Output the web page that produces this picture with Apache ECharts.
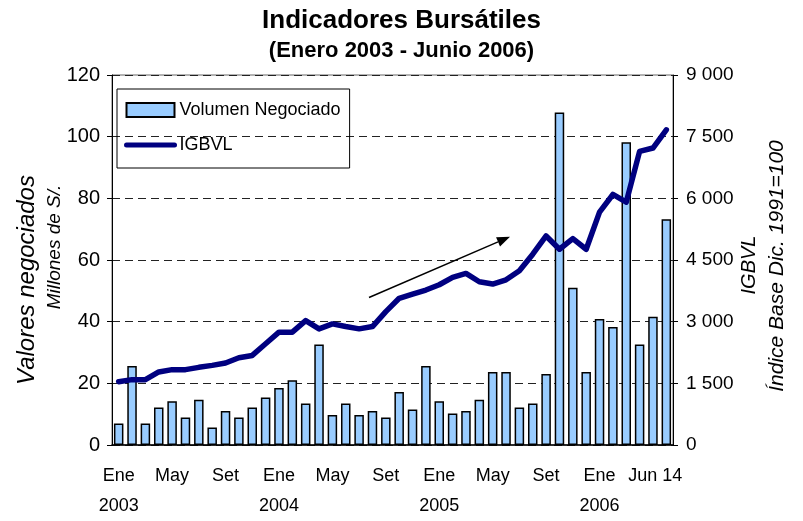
<!DOCTYPE html>
<html>
<head>
<meta charset="utf-8">
<title>Indicadores Bursátiles</title>
<script src="https://cdn.jsdelivr.net/npm/echarts@6/dist/echarts.min.js"></script>
<style>
  html, body { margin: 0; padding: 0; background: #fff; }
  #mychart { width: 803px; height: 521px; }
</style>
</head>
<body>
<div id="mychart"></div>
<script>
// meses Ene 2003 - Jun 2006
const meses = ["Ene", "Feb", "Mar", "Abr", "May", "Jun", "Jul", "Ago", "Set", "Oct", "Nov", "Dic"];
const anios = [2003, 2004, 2005, 2006];
const categorias = [];
anios.forEach(a => meses.forEach(m => categorias.push(m + " " + a)));
categorias.length = 42;

// etiquetas del eje x (indice -> texto)
const etiquetasIdx = [0, 4, 8, 12, 16, 20, 24, 28, 32, 36, 41];
const etiquetasTxt = ["Ene\n2003", "May", "Set", "Ene\n2004", "May", "Set", "Ene\n2005", "May", "Set", "Ene\n2006", "Jun 14"];

// Volumen negociado (millones de S/.)
const volumen = [7.0, 25.6, 7.0, 12.2, 14.2, 8.9, 14.7, 5.7, 11.0, 8.9, 12.2, 15.4,
  18.5, 21.0, 13.5, 32.6, 9.7, 13.5, 9.7, 11.0, 8.9, 17.2, 11.5, 25.6,
  14.2, 10.2, 11.0, 14.7, 23.7, 23.7, 12.2, 13.5, 23.0, 107.8, 51.0, 23.7,
  40.9, 38.3, 98.2, 32.6, 41.6, 73.2];

// IGBVL (indice base dic.1991=100)
const igbvl = [1540, 1590, 1590, 1777, 1833, 1833, 1889, 1937, 1995, 2123, 2179, 2462,
  2745, 2745, 3026, 2825, 2946, 2881, 2825, 2881, 3244, 3568, 3672, 3770,
  3898, 4077, 4173, 3970, 3915, 4019, 4237, 4641, 5084, 4762, 5021, 4762,
  5665, 6094, 5907, 7142, 7224, 7667];

const FONT = "Liberation Sans, Arial, sans-serif";

// flecha de tendencia (pixeles)
const flechaIni = [369, 297.5];
const flechaFin = [510, 236.7];
function cabezaFlecha(p0, p1, len, half) {
  const dx = p1[0] - p0[0], dy = p1[1] - p0[1];
  const d = Math.sqrt(dx * dx + dy * dy);
  const ux = dx / d, uy = dy / d;
  const bx = p1[0] - ux * len, by = p1[1] - uy * len;
  return {
    base: [bx, by],
    pts: [p1, [bx - uy * half, by + ux * half], [bx + uy * half, by - ux * half]]
  };
}
const cabeza = cabezaFlecha(flechaIni, flechaFin, 13, 5);

function miles(v) {
  if (v < 1000) return String(v);
  const r = v % 1000;
  return Math.floor(v / 1000) + " " + String(r).padStart(3, "0");
}

let myChart = echarts.init(document.getElementById("mychart"), null, { renderer: "canvas" });
myChart.setOption({
  animation: false,
  backgroundColor: "#fff",
  textStyle: { fontFamily: FONT },
  title: {
    text: "Indicadores Bursátiles",
    subtext: "(Enero 2003 - Junio 2006)",
    left: "center",
    top: 3,
    itemGap: 6,
    textStyle: { fontFamily: FONT, fontSize: 26, fontWeight: "bold", color: "#000" },
    subtextStyle: { fontFamily: FONT, fontSize: 22, fontWeight: "bold", color: "#000" }
  },
  legend: {
    orient: "vertical",
    left: 117,
    top: 89,
    padding: [12, 9, 14, 7],
    itemGap: 17,
    itemWidth: 48,
    itemHeight: 14,
    borderColor: "#000",
    borderWidth: 1,
    textStyle: { fontFamily: FONT, fontSize: 18, color: "#000" },
    data: [
      { name: "Volumen Negociado", icon: "rect" },
      {
        name: "IGBVL",
        itemStyle: { opacity: 0 },
        lineStyle: { width: 5, color: "#000080", cap: "round" }
      }
    ]
  },
  grid: {
    left: 112,
    right: 130,
    top: 75,
    bottom: 74,
    show: true,
    borderColor: "#666",
    borderWidth: 1
  },
  xAxis: {
    type: "category",
    data: categorias,
    axisLine: { lineStyle: { color: "#000", width: 1.5 } },
    axisTick: { show: false },
    axisLabel: {
      interval: (i) => etiquetasIdx.indexOf(i) >= 0,
      margin: 16,
      fontFamily: FONT,
      fontSize: 18,
      lineHeight: 30,
      color: "#000",
      formatter: function(value, i) {
        const k = etiquetasIdx.indexOf(i);
        if (k < 0) return "";
        if (i === 41) return "{j|" + etiquetasTxt[k] + "}";
        return etiquetasTxt[k];
      },
      rich: {
        j: { fontFamily: FONT, fontSize: 18, color: "#000", padding: [0, 22, 0, 0] }
      }
    }
  },
  yAxis: [
    {
      type: "value",
      min: 0,
      max: 120,
      interval: 20,
      axisLine: { show: true, lineStyle: { color: "#000", width: 1 } },
      axisTick: { show: true, length: 5, lineStyle: { color: "#000" } },
      axisLabel: { margin: 12, fontFamily: FONT, fontSize: 20, color: "#000" },
      splitLine: { show: true, lineStyle: { color: "#222", type: [8, 5], width: 1 } }
    },
    {
      type: "value",
      min: 0,
      max: 9000,
      interval: 1500,
      position: "right",
      axisLine: { show: true, lineStyle: { color: "#000", width: 1 } },
      axisTick: { show: true, length: 5, lineStyle: { color: "#000" } },
      axisLabel: { margin: 13, fontFamily: FONT, fontSize: 19, color: "#000", formatter: miles },
      splitLine: { show: false }
    }
  ],
  series: [
    {
      name: "Volumen Negociado",
      type: "bar",
      yAxisIndex: 0,
      data: volumen,
      barWidth: 9.5,
      itemStyle: { color: "#99ccff", borderColor: "#000", borderWidth: 1.5 }
    },
    {
      name: "IGBVL",
      type: "line",
      yAxisIndex: 1,
      data: igbvl,
      symbol: "none",
      showSymbol: false,
      lineStyle: { color: "#000080", width: 5.5, join: "round", cap: "round" },
      itemStyle: { color: "#000080" }
    }
  ],
  graphic: [
    // titulos de ejes
    {
      type: "text", x: 27, y: 280, rotation: Math.PI / 2,
      style: { text: "Valores negociados", fontFamily: FONT, fontSize: 24, fontStyle: "italic", fill: "#000", align: "center", verticalAlign: "middle" }
    },
    {
      type: "text", x: 55, y: 247, rotation: Math.PI / 2,
      style: { text: "Millones de S/.", fontFamily: FONT, fontSize: 19, fontStyle: "italic", fill: "#000", align: "center", verticalAlign: "middle" }
    },
    {
      type: "text", x: 749, y: 265, rotation: Math.PI / 2,
      style: { text: "IGBVL", fontFamily: FONT, fontSize: 20, fontStyle: "italic", fill: "#000", align: "center", verticalAlign: "middle" }
    },
    {
      type: "text", x: 777, y: 266, rotation: Math.PI / 2,
      style: { text: "Índice Base Dic. 1991=100", fontFamily: FONT, fontSize: 21, fontStyle: "italic", fill: "#000", align: "center", verticalAlign: "middle" }
    },
    // flecha
    {
      type: "line",
      shape: { x1: flechaIni[0], y1: flechaIni[1], x2: cabeza.base[0], y2: cabeza.base[1] },
      style: { stroke: "#000", lineWidth: 1.5 },
      z: 10
    },
    {
      type: "polygon",
      shape: { points: cabeza.pts },
      style: { fill: "#000" },
      z: 10
    }
  ]
});
window.onresize = myChart.resize;
</script>
</body>
</html>
